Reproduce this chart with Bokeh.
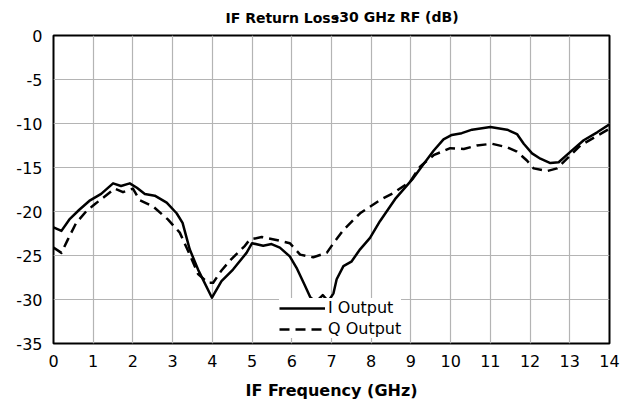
from bokeh.plotting import figure
from bokeh.models import Range1d, FixedTicker, Label, Legend, LegendItem
from bokeh.embed import file_html
from bokeh.resources import INLINE

# ---- data ----
i_freq = [0.0, 0.2, 0.4, 0.65, 0.9, 1.2, 1.5, 1.7, 1.92, 2.1, 2.3, 2.55, 2.85, 3.1, 3.25,
          3.43, 3.64, 3.99, 4.23, 4.52, 4.86, 5.0, 5.28, 5.49, 5.7, 5.95, 6.12, 6.33, 6.46,
          6.6, 6.78, 6.92, 7.05, 7.13, 7.3, 7.5, 7.72, 7.97, 8.22, 8.6, 9.06, 9.32, 9.57,
          9.82, 10.03, 10.28, 10.54, 11.0, 11.42, 11.67, 11.84, 12.05, 12.26, 12.51, 12.72,
          13.02, 13.35, 13.69, 14.0]
i_db = [-21.8, -22.2, -20.9, -19.8, -18.8, -18.0, -16.8, -17.1, -16.8, -17.3, -18.0, -18.2,
        -19.0, -20.2, -21.3, -24.3, -26.6, -29.8, -27.9, -26.6, -24.7, -23.6, -23.9, -23.7,
        -24.1, -25.1, -26.4, -28.4, -29.7, -30.3, -29.5, -30.2, -29.3, -27.7, -26.2, -25.7,
        -24.3, -23.0, -21.1, -18.6, -16.2, -14.6, -13.1, -11.8, -11.3, -11.1, -10.7, -10.4,
        -10.7, -11.2, -12.3, -13.4, -14.0, -14.5, -14.4, -13.2, -11.9, -11.0, -10.1]

q_freq = [0.0, 0.2, 0.36, 0.57, 0.82, 1.03, 1.29, 1.54, 1.75, 2.0, 2.17, 2.5, 2.88, 3.18,
          3.43, 3.64, 3.89, 4.02, 4.23, 4.48, 4.82, 4.94, 5.24, 5.58, 5.95, 6.21, 6.54, 6.88,
          7.05, 7.3, 7.72, 8.22, 8.56, 8.98, 9.23, 9.57, 9.99, 10.33, 10.66, 11.04, 11.42,
          11.67, 11.92, 12.09, 12.43, 12.68, 12.93, 13.27, 13.61, 14.0]
q_db = [-24.1, -24.7, -23.2, -21.3, -20.0, -19.2, -18.3, -17.4, -17.8, -17.4, -18.7, -19.4,
        -20.9, -22.4, -24.9, -27.1, -28.1, -28.1, -26.7, -25.4, -23.9, -23.2, -22.9, -23.2,
        -23.6, -24.9, -25.2, -24.7, -23.6, -22.1, -20.2, -18.7, -17.9, -16.6, -14.9, -13.6,
        -12.8, -12.9, -12.5, -12.3, -12.7, -13.2, -14.2, -15.1, -15.4, -15.1, -14.0, -12.5,
        -11.6, -10.6]

x_ticks = list(range(0, 15))
y_ticks = [-35, -30, -25, -20, -15, -10, -5, 0]
y_tick_labels = ["-35", "-30", "-25", "-20", "-15", "-10", "-5", "0"]
x_tick_labels = [str(t) for t in x_ticks]

title_part1 = "IF Return Loss"
title_part2 = "-30 GHz RF (dB)"
x_label = "IF Frequency (GHz)"
series_names = ["I Output", "Q Output"]

FONT = "DejaVu Sans"

p = figure(width=629, height=402, output_backend="svg", toolbar_location=None,
           x_range=Range1d(0, 14), y_range=Range1d(-35, 0),
           min_border_left=53, min_border_right=20, min_border_top=35,
           min_border_bottom=57)
p.background_fill_color = "white"
p.border_fill_color = "white"
p.outline_line_color = "black"
p.outline_line_width = 2

# grids
p.xgrid.ticker = FixedTicker(ticks=x_ticks)
p.ygrid.ticker = FixedTicker(ticks=y_ticks)
for g in (p.xgrid, p.ygrid):
    g.grid_line_color = "#b4b4b4"
    g.grid_line_width = 1.2

# axes
p.xaxis.ticker = FixedTicker(ticks=x_ticks)
p.yaxis.ticker = FixedTicker(ticks=y_ticks)
p.xaxis.major_label_overrides = {t: l for t, l in zip(x_ticks, x_tick_labels)}
p.yaxis.major_label_overrides = {t: l for t, l in zip(y_ticks, y_tick_labels)}
for ax in (p.xaxis, p.yaxis):
    ax.axis_line_color = None
    ax.major_tick_line_color = None
    ax.minor_tick_line_color = None
    ax.major_tick_out = 0
    ax.major_tick_in = 0
    ax.major_label_text_font = FONT
    ax.major_label_text_font_size = "16px"
    ax.major_label_text_color = "black"
p.xaxis.major_label_standoff = 11
p.yaxis.major_label_standoff = 11
p.xaxis.axis_label = x_label
p.xaxis.axis_label_text_font = FONT
p.xaxis.axis_label_text_font_size = "16px"
p.xaxis.axis_label_text_font_style = "bold"
p.xaxis.axis_label_text_color = "black"
p.xaxis.axis_label_standoff = 11

# series
r_i = p.line(i_freq, i_db, line_color="black", line_width=2.5, line_join="round")
r_q = p.line(q_freq, q_db, line_color="black", line_width=2.5, line_dash="10 6",
             line_join="round")

legend = Legend(items=[LegendItem(label=series_names[0], renderers=[r_i]),
                       LegendItem(label=series_names[1], renderers=[r_q])],
                location=(226, 5))
legend.border_line_color = None
legend.background_fill_color = "white"
legend.background_fill_alpha = 1.0
legend.label_text_font = FONT
legend.label_text_font_size = "16px"
legend.label_text_color = "black"
legend.glyph_width = 46
legend.glyph_height = 18
legend.label_height = 18
legend.label_standoff = 3
legend.spacing = 2
legend.padding = 3
legend.margin = 0
p.add_layout(legend, "center")

# title (two overlapping pieces as in the reference), placed in the top panel
t1 = Label(x=172, y=18, x_units="screen", y_units="screen", text=title_part1,
           text_font=FONT, text_font_size="14px", text_font_style="bold",
           text_color="black", text_baseline="alphabetic", text_align="left")
t2 = Label(x=280, y=3, x_units="screen", y_units="screen", text=title_part2,
           text_font=FONT, text_font_size="14px", text_font_style="bold",
           text_color="black", text_baseline="alphabetic", text_align="left")
p.add_layout(t1, "above")
p.add_layout(t2, "above")

open("out.html", "w").write(file_html(p, INLINE))
